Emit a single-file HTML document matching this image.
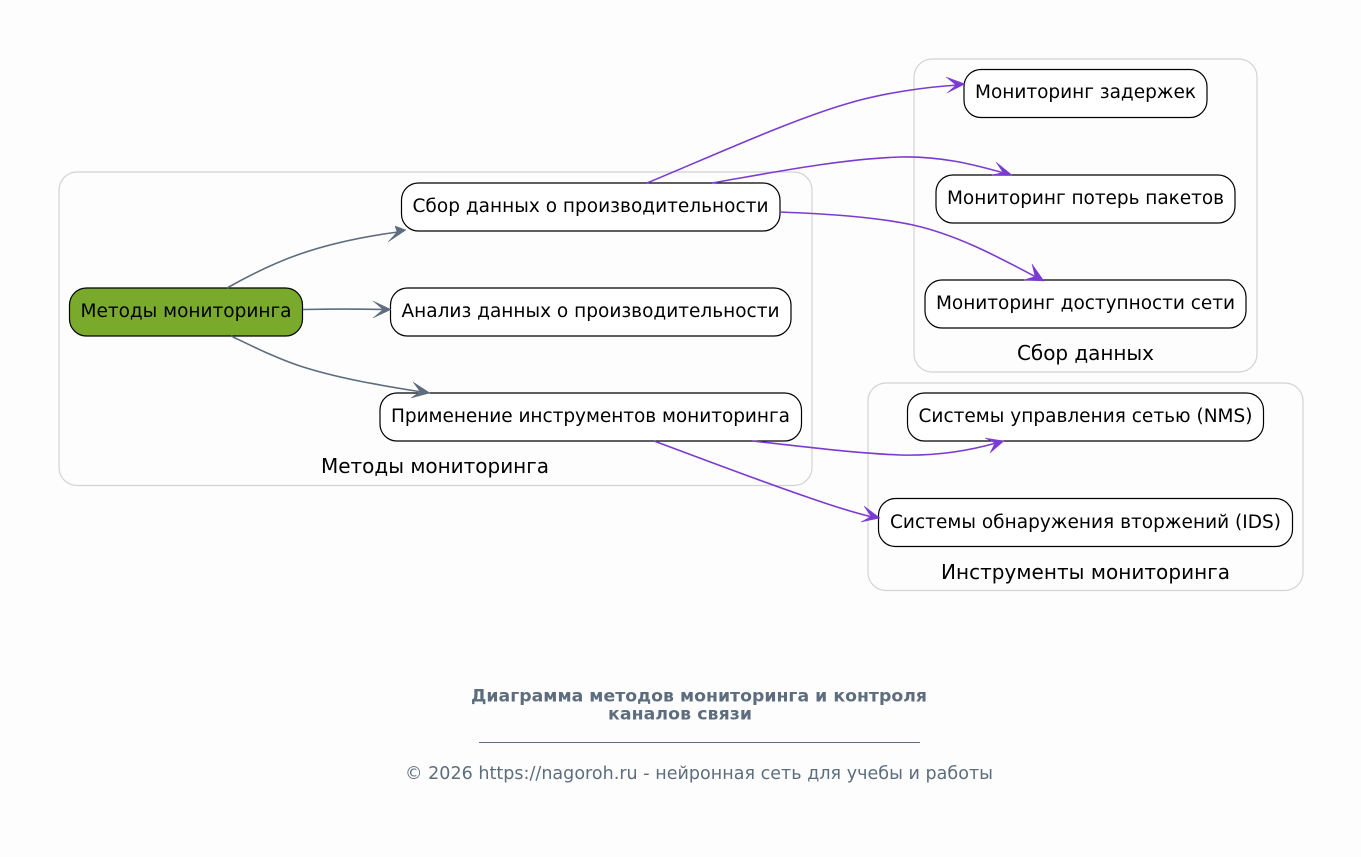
<!DOCTYPE html>
<html><head><meta charset="utf-8">
<style>
html,body{margin:0;padding:0;background:#fdfdfd;width:1361px;height:857px;overflow:hidden}
svg{display:block}
text{font-family:"DejaVu Sans",sans-serif}
.c{fill:none;stroke:#d3d3d3;stroke-width:1.2}
.n{fill:#fff;stroke:#000;stroke-width:1.2}
.t{font-size:18.500px;fill:#000;text-anchor:middle}
.l{font-size:20px;fill:#000;text-anchor:middle}
.g{fill:none;stroke:#5d6d7e;stroke-width:1.6}
.p{fill:none;stroke:#7b3bd0;stroke-width:1.6}
.ga{fill:#5d6d7e;stroke:#5d6d7e;stroke-width:.5}
.pa{fill:#7b3bd0;stroke:#7b3bd0;stroke-width:.5}
</style></head><body>
<svg width="1361" height="857" viewBox="0 0 1361 857" xmlns="http://www.w3.org/2000/svg">
<rect width="1361" height="857" fill="#fdfdfd"/>
<rect class="c" x="59" y="172" width="753" height="313.500" rx="18"/>
<rect class="c" x="914" y="59" width="343" height="313" rx="18"/>
<rect class="c" x="868" y="383" width="435" height="207.500" rx="18"/>
<text class="l" x="435" y="473" textLength="228">Методы мониторинга</text>
<text class="l" x="1085.500" y="360" textLength="137">Сбор данных</text>
<text class="l" x="1085.500" y="579" textLength="289">Инструменты мониторинга</text>

<rect x="69.500" y="288" width="233" height="48" rx="17" fill="#7aaa2c" stroke="#000" stroke-width="1.2"/>
<text class="t" x="186" y="317" textLength="211">Методы мониторинга</text>
<rect class="n" x="401.500" y="183" width="378.500" height="48" rx="17"/>
<text class="t" x="590.500" y="212" textLength="356">Сбор данных о производительности</text>
<rect class="n" x="390.500" y="288" width="400.500" height="48" rx="17"/>
<text class="t" x="590.500" y="317" textLength="378">Анализ данных о производительности</text>
<rect class="n" x="380" y="393" width="421.500" height="48" rx="17"/>
<text class="t" x="590.500" y="422" textLength="399">Применение инструментов мониторинга</text>
<rect class="n" x="964" y="69.500" width="243" height="48" rx="17"/>
<text class="t" x="1085.500" y="98" textLength="221">Мониторинг задержек</text>
<rect class="n" x="936" y="175" width="299" height="48" rx="17"/>
<text class="t" x="1085.500" y="204" textLength="277">Мониторинг потерь пакетов</text>
<rect class="n" x="925" y="280" width="321" height="48" rx="17"/>
<text class="t" x="1085.500" y="309" textLength="299">Мониторинг доступности сети</text>
<rect class="n" x="907.500" y="393" width="356" height="48" rx="17"/>
<text class="t" x="1085.500" y="422" textLength="334">Системы управления сетью (NMS)</text>
<rect class="n" x="878.500" y="498.500" width="414" height="48" rx="17"/>
<text class="t" x="1085.500" y="528" textLength="391">Системы обнаружения вторжений (IDS)</text>

<path class="g" d="M227,288C250,275 274,263 300,254C332,243 368,236 398,232"/>
<polygon class="ga" points="406,230 388,242 397,232 395,226"/>
<path class="g" d="M303,309.500C330,309 360,309 384,309.500"/>
<polygon class="ga" points="391,309.500 373,318 383,309.500 373,301"/>
<path class="g" d="M231,336C254,347 276,358 300,366C340,379 385,386 422,392"/>
<polygon class="ga" points="430,393 411,398 420,391.500 413,382"/>

<path class="p" d="M647,183C710,157 795,118 853,102C885,93 925,87 958,85"/>
<polygon class="pa" points="965,84 947,93 956,85 946,77"/>
<path class="p" d="M712,183C770,173 840,159 900,157C940,156 972,164 1004,173"/>
<polygon class="pa" points="1012,175 992,175 1003,172.500 996,162"/>
<path class="p" d="M780,212C830,214 875,217 913,225C958,235 1000,258 1036,277"/>
<polygon class="pa" points="1044,281 1024,280 1035,276.500 1032,264"/>
<path class="p" d="M752,441C800,446 850,453 900,455C935,456 968,451 996,443"/>
<polygon class="pa" points="1004,441 990,453 995,443 985,438"/>
<path class="p" d="M654,441C700,458 760,481 810,498C830,505 852,512 872,517"/>
<polygon class="pa" points="880,518 861,522 871,516.500 864,506"/>

<text x="699" y="701.500" font-size="17.300" font-weight="bold" fill="#5d6d7e" text-anchor="middle" textLength="456">Диаграмма методов мониторинга и контроля</text>
<text x="680" y="719.500" font-size="17.300" font-weight="bold" fill="#5d6d7e" text-anchor="middle" textLength="144">каналов связи</text>
<line x1="479" y1="742.500" x2="920" y2="742.500" stroke="#5d6d7e" stroke-width="1"/>
<text x="699" y="779" font-size="17.500" fill="#5d6d7e" text-anchor="middle" textLength="588">© 2026 https://nagoroh.ru - нейронная сеть для учебы и работы</text>
</svg>
</body></html>
